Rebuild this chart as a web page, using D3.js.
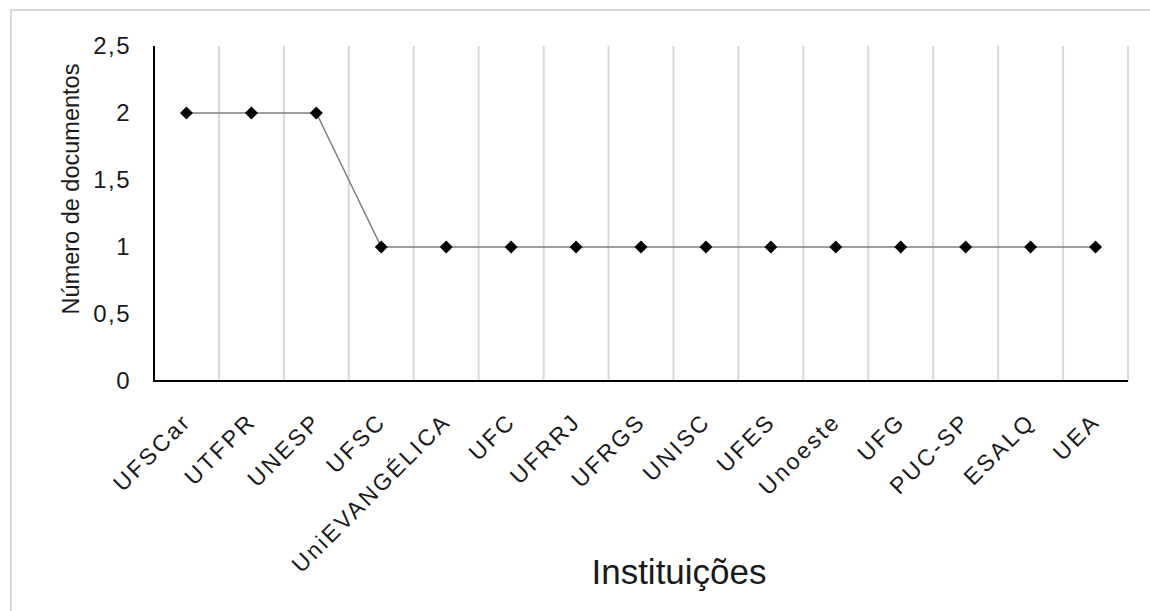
<!DOCTYPE html>
<html>
<head>
<meta charset="utf-8">
<script src="https://cdn.jsdelivr.net/npm/d3@7"></script>
<style>
  html, body { margin: 0; padding: 0; background: #fff; }
  svg { display: block; font-family: "Liberation Sans", Arial, sans-serif; }
</style>
</head>
<body>
<svg id="chart" width="1150" height="611"></svg>
<script>
// Instituições e número de documentos por instituição
const instituicoes = ["UFSCar", "UTFPR", "UNESP", "UFSC", "UniEVANGÉLICA", "UFC", "UFRRJ",
  "UFRGS", "UNISC", "UFES", "Unoeste", "UFG", "PUC-SP", "ESALQ", "UEA"];
const documentos = [2, 2, 2, 1, 1, 1, 1, 1, 1, 1, 1, 1, 1, 1, 1];
const yTicks = [0, 0.5, 1, 1.5, 2, 2.5];
const yTickLabels = ["0", "0,5", "1", "1,5", "2", "2,5"];

const svg = d3.select("#chart");
const plotLeft = 154, plotRight = 1128, plotTop = 46, plotBottom = 381;
const textColor = "#1a1a1a";

// chart frame
svg.append("rect")
  .attr("x", 11).attr("y", 10)
  .attr("width", 1160).attr("height", 640)
  .attr("fill", "none").attr("stroke", "#d9d9d9").attr("stroke-width", 2);

const x = d3.scaleBand().domain(instituicoes).range([plotLeft, plotRight]).padding(0);
const y = d3.scaleLinear().domain([0, 2.5]).range([plotBottom, plotTop]);

// vertical gridlines on category boundaries
const bounds = instituicoes.map(d => x(d) + x.bandwidth());
svg.append("g").selectAll("line").data(bounds).join("line")
  .attr("x1", d => d).attr("x2", d => d)
  .attr("y1", plotTop).attr("y2", plotBottom)
  .attr("stroke", "#d9d9d9").attr("stroke-width", 2);

// y axis
const yAxis = svg.append("g")
  .attr("transform", `translate(${plotLeft},0)`)
  .call(d3.axisLeft(y).tickValues(yTicks)
    .tickFormat((d, i) => yTickLabels[i]).tickSize(0).tickPadding(23));
yAxis.select(".domain").attr("stroke", "#000").attr("stroke-width", 2)
  .attr("d", `M0,${plotTop}V${plotBottom + 1}`);
yAxis.selectAll("text")
  .attr("font-size", 24).attr("fill", textColor)
  .attr("letter-spacing", 1.5)
  .attr("font-family", "Liberation Sans, Arial, sans-serif");

// x axis
const xAxis = svg.append("g")
  .attr("transform", `translate(0,${plotBottom})`)
  .call(d3.axisBottom(x).tickSize(0).tickPadding(0));
xAxis.select(".domain").attr("stroke", "#000").attr("stroke-width", 2)
  .attr("d", `M${plotLeft - 1},0H${plotRight}`);
xAxis.selectAll("text")
  .attr("font-size", 23).attr("fill", textColor)
  .attr("letter-spacing", 2.6)
  .attr("font-family", "Liberation Sans, Arial, sans-serif")
  .attr("text-anchor", "end")
  .attr("dy", null).attr("y", null)
  .attr("transform", "translate(6,42) rotate(-45)");

// series line
const line = d3.line()
  .x((d, i) => x(instituicoes[i]) + x.bandwidth() / 2)
  .y(d => y(d));
svg.append("path").datum(documentos)
  .attr("d", line).attr("fill", "none")
  .attr("stroke", "#7f7f7f").attr("stroke-width", 1.5);

// diamond markers
svg.append("g").selectAll("path").data(documentos).join("path")
  .attr("d", d3.symbol().type(d3.symbolSquare).size(84))
  .attr("transform", (d, i) => `translate(${x(instituicoes[i]) + x.bandwidth() / 2},${y(d)}) rotate(45)`)
  .attr("fill", "#000");

// axis titles
svg.append("text")
  .attr("transform", `translate(79,189) rotate(-90)`)
  .attr("text-anchor", "middle")
  .attr("font-size", 23.5).attr("fill", textColor)
  .text("Número de documentos");

svg.append("text")
  .attr("x", 679).attr("y", 584)
  .attr("text-anchor", "middle")
  .attr("font-size", 35).attr("fill", textColor)
  .text("Instituições");
</script>
</body>
</html>
